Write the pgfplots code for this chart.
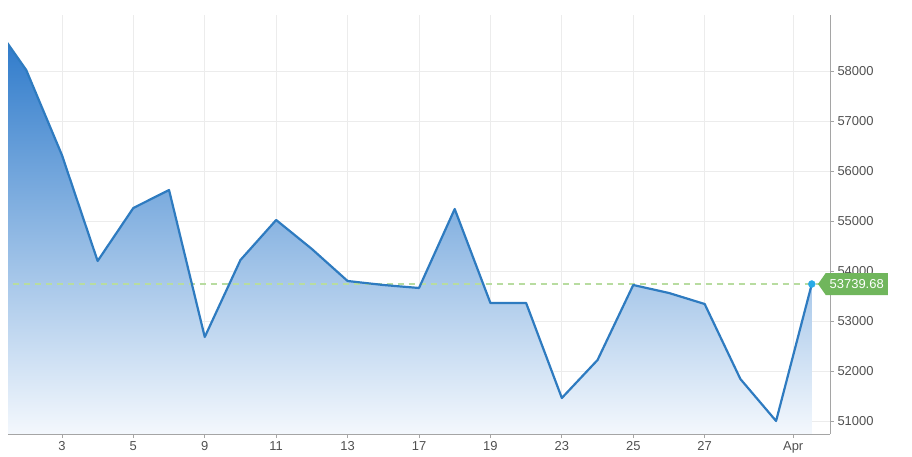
\documentclass[border=0pt]{standalone}
\usepackage{pgfplots}
\pgfplotsset{compat=1.18}
\usepackage{pgfplotstable}
\usepackage{fontspec}
\setmainfont{Liberation Sans}
\usetikzlibrary{shapes.symbols}
\definecolor{lineblue}{RGB}{46,123,192}
\definecolor{filltop}{RGB}{36,116,200}
\definecolor{fillbot}{RGB}{244,248,253}
\definecolor{gridgray}{RGB}{236,236,236}
\definecolor{axisgray}{RGB}{165,165,165}
\definecolor{labelgray}{RGB}{80,80,80}
\definecolor{dashgreen}{RGB}{184,220,160}
\definecolor{labelgreen}{RGB}{112,182,92}
\definecolor{markblue}{RGB}{40,170,230}

\pgfplotstableread{
k v
0 59040
1 58020
2 56320
3 54200
4 55260
5 55620
6 52680
7 54220
8 55020
9 54440
10 53800
11 53720
12 53660
13 55240
14 53360
15 53360
16 51460
17 52220
18 53720
19 53560
20 53340
21 51840
22 51000
23 53739.68
}\series

\pgfplotstableread{
k v
0 59040
1 58020
2 56320
3 54200
4 55260
5 55620
6 52680
7 54220
8 55020
9 54440
10 53800
11 53720
12 53660
13 55240
14 53360
15 53360
16 51460
17 52220
18 53720
19 53560
20 53340
21 51840
22 51000
23 53739.68
23 50740
0 50740
}\area

\begin{document}
\begin{tikzpicture}
\path[use as bounding box] (-8bp,-23bp) rectangle (904bp,434bp);
\begin{axis}[
  at={(0,0)}, anchor=south west,
  scale only axis, width=822bp, height=419bp,
  xmin=0.49, xmax=23.51, ymin=50740, ymax=59120,
  axis x line=bottom, axis y line=right,
  axis line style={-, draw=axisgray, line width=1bp},
  xtick={2,4,6,8,10,12,14,16,18,20,22.48},
  xticklabels={3,5,9,11,13,17,19,23,25,27,Apr},
  ytick={51000,52000,53000,54000,55000,56000,57000,58000},
  grid=major, grid style={gridgray, line width=0.8bp},
  tick align=outside, major tick length=4bp,
  tick style={axisgray, line width=0.8bp},
  ticklabel style={font=\fontsize{13}{15}\selectfont, text=labelgray},
  /pgf/number format/assume math mode=true,
  yticklabel style={/pgf/number format/1000 sep={}},
  scaled y ticks=false,
  clip mode=individual,
]
\addplot[draw=none, top color=filltop, bottom color=fillbot] table[x=k, y=v] {\area} -- cycle;
\addplot[dashgreen, dash pattern=on 6bp off 5bp, line width=1.3bp] coordinates {(0,53739.68) (23.51,53739.68)};
\addplot[lineblue, line width=2.2bp, line join=round] table[x=k, y=v] {\series};
\addplot[only marks, mark=*, mark size=3.5bp, mark options={fill=markblue, draw=markblue}] coordinates {(23,53739.68)};
\node[signal, signal to=west, signal pointer angle=110, fill=labelgreen, text=white,
  font=\fontsize{13}{15}\selectfont, inner xsep=4bp, inner ysep=4bp, minimum height=22bp,
  anchor=west, xshift=6bp]
  at (axis cs:23,53739.68) {53739.68};
\end{axis}
\end{tikzpicture}
\end{document}
